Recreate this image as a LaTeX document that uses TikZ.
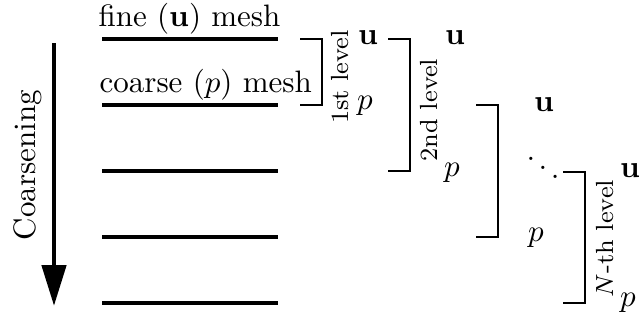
\documentclass[tikz,border=0pt]{standalone}
\usetikzlibrary{arrows.meta}
\begin{document}
\begin{tikzpicture}[x=0.3226pt,y=-0.3226pt,
  mesh/.style={line width=1pt},
  brk/.style={line width=0.4pt},
  lbl/.style={inner sep=0pt},
  lvl/.style={inner sep=0pt,rotate=90,anchor=base,font=\fontsize{8}{9.6}\selectfont},
  var/.style={inner sep=0pt,anchor=base},
  bigarrow/.style={line width=1.6pt,-{Triangle[length=13.2pt,width=7.7pt]}}]
\useasboundingbox (0,0) rectangle (639,320);
% mesh lines
\foreach \i/\y in {1/39,2/105,3/171,4/237,5/303}{
  \coordinate (m\i w) at (102,\y);
  \coordinate (m\i e) at (278,\y);
  \draw[mesh] (m\i w) -- (m\i e);
}
% mesh labels
\node[lbl,anchor=base west] (fine) at (98,26) {fine ($\mathbf{u}$) mesh};
\node[lbl,anchor=base west] (coarse) at (99,92) {coarse ($p$) mesh};
% coarsening arrow
\coordinate (atop) at (54,43);
\coordinate (abot) at (54,306);
\draw[bigarrow] (atop) -- (abot);
\node[lbl,rotate=90,anchor=base] (coarsening) at (36,165) {Coarsening};
% brackets
\coordinate (b1t) at (300,39);  \coordinate (b1b) at (300,105);
\coordinate (b2t) at (388,39);  \coordinate (b2b) at (388,171);
\coordinate (b3t) at (476,105); \coordinate (b3b) at (476,237);
\coordinate (b4t) at (563,172); \coordinate (b4b) at (563,303);
\draw[brk] (b1t) -- ++(22,0) |- (b1b);
\draw[brk] (b2t) -- ++(22,0) |- (b2b);
\draw[brk] (b3t) -- ++(22,0) |- (b3b);
\draw[brk] (b4t) -- ++(22,0) |- (b4b);
% level labels
\node[lvl] (l1) at (348,77) {1st level};
\node[lvl] (l2) at (437,110) {2nd level};
\node[lvl] (lN) at (613,238.5) {$N$-th level};
% variables
\node[var] (u1) at (368,44) {$\mathbf{u}$};
\node[var] (p1) at (365,109) {$p$};
\node[var] (u2) at (455,44) {$\mathbf{u}$};
\node[var] (p2) at (452,176) {$p$};
\node[var] (u3) at (544,111) {$\mathbf{u}$};
\node[var] (p3) at (536,241) {$p$};
\node[var] (u4) at (630,177) {$\mathbf{u}$};
\node[var] (p4) at (628,306) {$p$};
\node[var] (dd) at (543,182) {$\ddots$};
\end{tikzpicture}
\end{document}
